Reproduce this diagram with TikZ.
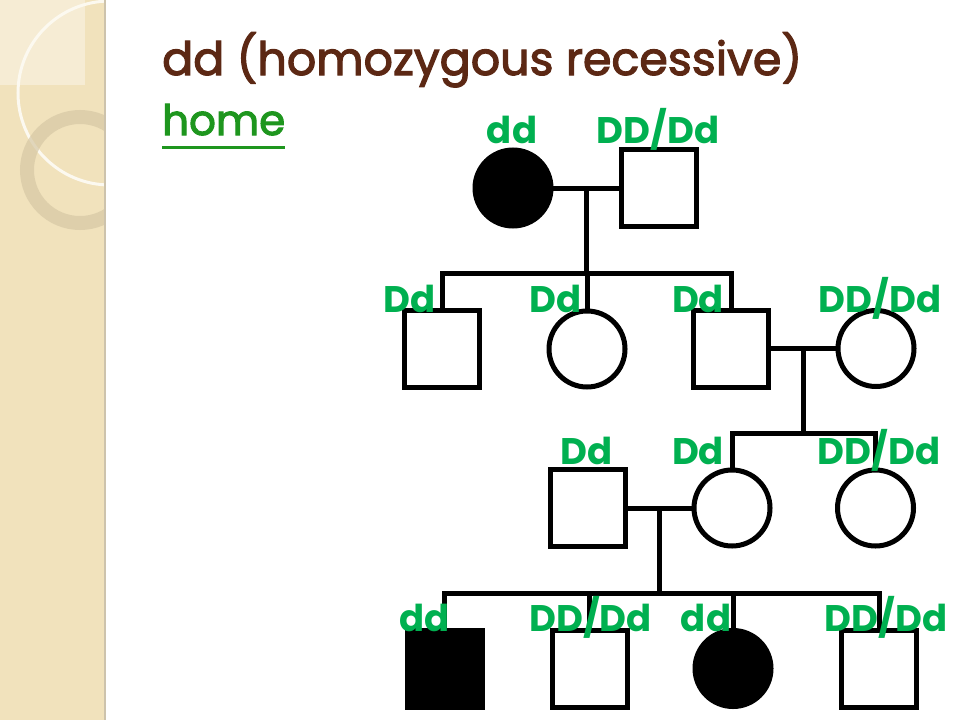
\documentclass[tikz,border=0pt]{standalone}
\usepackage{fontspec}
\usepackage{graphicx}
\setmainfont{Poppins}
\newfontfamily\titlefont{Poppins}[FakeBold=2.5]
\usetikzlibrary{calc}
\definecolor{panel}{RGB}{241,226,188}
\definecolor{panellight}{RGB}{246,236,212}
\definecolor{ringc}{RGB}{214,200,165}
\definecolor{arcc}{RGB}{252,249,240}
\definecolor{edgec}{RGB}{205,195,172}
\definecolor{titlebrown}{RGB}{92,40,20}
\definecolor{homegreen}{RGB}{30,150,30}
\definecolor{labgreen}{RGB}{0,176,80}
\begin{document}
\begin{tikzpicture}[x=1pt,y=-1pt,
  person/.style={draw=black,line width=5pt,inner sep=0pt,outer sep=0pt},
  male/.style={person,rectangle,minimum width=75pt,minimum height=77pt},
  female/.style={person,circle,minimum size=76pt},
  affected/.style={fill=black},
  geno/.style={text=labgreen,anchor=base,inner sep=0pt,font=\fontsize{37}{37}\selectfont\bfseries},
  link/.style={draw=black,line width=5pt,line join=miter}
]
\useasboundingbox (0,0) rectangle (960,720);
\fill[white] (0,0) rectangle (960,720);

% left decorative panel
\begin{scope}
\clip (0,0) rectangle (105,720);
\fill[panel] (0,0) rectangle (105,720);
\fill[panellight] (0,0) rectangle (85,85);
\draw[arcc,line width=3pt] (110,93) circle[radius=92];
\draw[ringc,line width=14pt,opacity=0.7] (80,170) circle[radius=53];
\end{scope}
\draw[edgec,line width=2pt] (105,0) -- (105,720);

% title
\node[anchor=base west,inner sep=0pt,text=titlebrown,font=\titlefont\fontsize{46}{46}\selectfont] (title) at (162,75) {\resizebox{640pt}{!}{dd (homozygous recessive)}};
\node[anchor=base west,inner sep=0pt,text=homegreen,font=\titlefont\fontsize{46}{46}\selectfont] (home) at (162,135) {\resizebox{123pt}{!}{home}};
\draw[homegreen,line width=3pt] ($(home.base west)+(0,12)$) -- ($(home.base east)+(0,12)$);

% generation I
\node[female,affected] (g1f) at (513,188) {};
\node[male] (g1m) at (658.5,188) {};
% generation II
\node[male] (g2a) at (442,348.5) {};
\node[female] (g2b) at (587,349) {};
\node[male] (g2c) at (731,348.5) {};
\node[female] (g2d) at (876,348.5) {};
% generation III
\node[male] (g3a) at (587.5,508) {};
\node[female] (g3b) at (732,508) {};
\node[female] (g3c) at (875.5,508) {};
% generation IV
\node[male,affected] (g4a) at (444.5,668.5) {};
\node[male] (g4b) at (589.5,668.5) {};
\node[female,affected] (g4c) at (733,668.5) {};
\node[male] (g4d) at (879,668.5) {};

% matings and sibships
\draw[link] (g1f.east) -- (g1m.west);
\coordinate (m1) at ($(g1f.east)!0.5!(g1m.west)$);
\coordinate (s1) at ($(m1)+(0,85)$);
\draw[link] (m1) -- (s1);
\draw[link] (g2a.north) -- (g2a.north |- s1) -- (g2c.north |- s1) -- (g2c.north);
\draw[link] (g2b.north |- s1) -- (g2b.north);

\draw[link] (g2c.east) -- (g2d.west);
\coordinate (m2) at ($(g2c.east)!0.5!(g2d.west)$);
\coordinate (s2) at ($(m2)+(0,84.5)$);
\draw[link] (m2) -- (s2);
\draw[link] (g3b.north) -- (g3b.north |- s2) -- (g3c.north |- s2) -- (g3c.north);

\draw[link] (g3a.east) -- (g3b.west);
\coordinate (m3) at ($(g3a.east)!0.5!(g3b.west)$);
\coordinate (s3) at ($(m3)+(0,85)$);
\draw[link] (m3) -- (s3);
\draw[link] (g4a.north) -- (g4a.north |- s3) -- (g4d.north |- s3) -- (g4d.north);
\draw[link] (g4b.north |- s3) -- (g4b.north);
\draw[link] (g4c.north |- s3) -- (g4c.north);

% genotype labels
\node[geno] (l1a) at (512,143) {dd};
\node[geno] (l1b) at (658,143) {DD/Dd};
\node[geno] (l2a) at (410,312) {Dd};
\node[geno] (l2b) at (556,312) {Dd};
\node[geno] (l2c) at (698,312) {Dd};
\node[geno] (l2d) at (880,312) {DD/Dd};
\node[geno] (l3a) at (587,464) {Dd};
\node[geno] (l3b) at (698,464) {Dd};
\node[geno] (l3c) at (879,464) {DD/Dd};
\node[geno] (l4a) at (424.5,631) {dd};
\node[geno] (l4b) at (590.5,631) {DD/Dd};
\node[geno] (l4c) at (706,631) {dd};
\node[geno] (l4d) at (886,631) {DD/Dd};
\end{tikzpicture}
\end{document}
